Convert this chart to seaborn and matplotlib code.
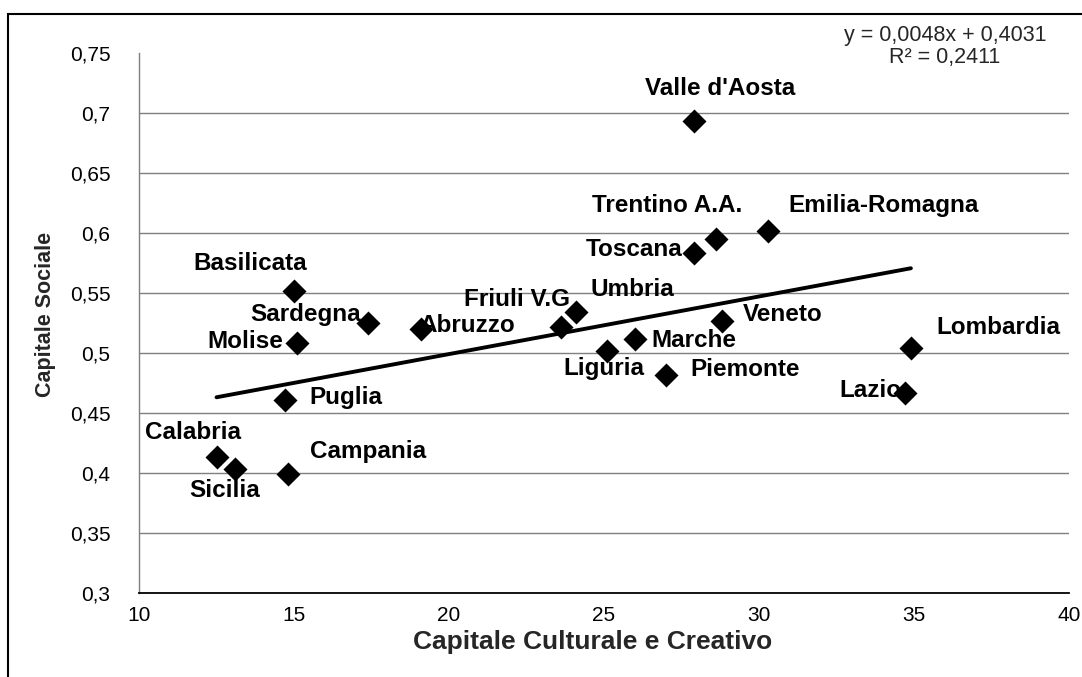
import numpy as np
import pandas as pd
import matplotlib
matplotlib.use("Agg")
import matplotlib.pyplot as plt
from matplotlib.ticker import FuncFormatter
from matplotlib.patches import Rectangle
import seaborn as sns

# Regional indicators
regioni = ["Valle d'Aosta", "Emilia-Romagna", "Trentino A.A.", "Toscana", "Basilicata",
           "Umbria", "Friuli V.G", "Sardegna", "Abruzzo", "Veneto", "Molise", "Marche",
           "Lombardia", "Liguria", "Piemonte", "Lazio", "Puglia", "Calabria",
           "Campania", "Sicilia"]
capitale_culturale = [27.9, 30.3, 28.6, 27.9, 15.0, 24.1, 23.6, 17.4, 19.1, 28.8, 15.1, 26.0,
                      34.9, 25.1, 27.0, 34.7, 14.7, 12.5, 14.8, 13.1]
capitale_sociale = [0.693, 0.602, 0.595, 0.583, 0.552, 0.534, 0.522, 0.525, 0.520, 0.527,
                    0.508, 0.512, 0.504, 0.502, 0.482, 0.467, 0.461, 0.413, 0.399, 0.403]

# Linear trend (as reported in the equation box)
pendenza = 0.0048
intercetta = 0.4031
r2 = 0.2411

x_ticks = [10, 15, 20, 25, 30, 35, 40]
y_ticks = [0.3, 0.35, 0.4, 0.45, 0.5, 0.55, 0.6, 0.65, 0.7, 0.75]

# label placement around each marker (pixels, x right / y up)
label_offsets = {
    "Valle d'Aosta": (26, 33), "Emilia-Romagna": (115, 25), "Trentino A.A.": (-48, 34),
    "Toscana": (-60, 4), "Basilicata": (-44, 27), "Umbria": (56, 23),
    "Friuli V.G": (-44, 27), "Sardegna": (-63, 8), "Abruzzo": (46, 3),
    "Veneto": (61, 6), "Molise": (-52, 2), "Marche": (59, -2), "Lombardia": (87, 21),
    "Liguria": (-3, -18), "Piemonte": (79, 5), "Lazio": (-34, 2), "Puglia": (61, 2),
    "Calabria": (-23, 25), "Campania": (80, 23), "Sicilia": (-10, -21),
}

df = pd.DataFrame({"regione": regioni, "cult": capitale_culturale, "soc": capitale_sociale})

sns.set_style("white")
plt.rcParams["font.family"] = ["Liberation Sans", "DejaVu Sans"]

fig = plt.figure(figsize=(10.82, 6.77), dpi=100)
ax = fig.add_axes([139 / 1082, 1 - 593 / 677, 930 / 1082, 540 / 677])

ax.set_xlim(10, 40)
ax.set_ylim(0.3, 0.75)

for yv in y_ticks[1:-1]:
    ax.axhline(yv, color="#7f7f7f", lw=1.0, zorder=0)

sns.scatterplot(data=df, x="cult", y="soc", marker="D", s=150, color="black",
                edgecolor="black", linewidth=0, ax=ax, zorder=3, legend=False)

xs = np.array([df["cult"].min(), df["cult"].max()])
ax.plot(xs, pendenza * xs + intercetta, color="black", lw=2.8, zorder=2,
        solid_capstyle="round")

for name, xv, yv in zip(regioni, capitale_culturale, capitale_sociale):
    dx, dy = label_offsets[name]
    ax.annotate(name, xy=(xv, yv), xytext=(dx, dy), textcoords="offset pixels",
                ha="center", va="center", fontsize=17.5, fontweight="bold",
                color="black", zorder=4)

fmt = FuncFormatter(lambda v, p: f"{v:g}".replace(".", ","))
ax.yaxis.set_major_formatter(fmt)
ax.set_xticks(x_ticks)
ax.set_yticks(y_ticks)
ax.tick_params(axis="both", labelsize=15, direction="inout", length=13, width=1,
               color="#7f7f7f", colors="black")
ax.tick_params(axis="y", pad=14)
ax.tick_params(axis="x", pad=3, color="black")
for t in ax.get_xticklabels() + ax.get_yticklabels():
    t.set_color("black")

for side in ["top", "right"]:
    ax.spines[side].set_visible(False)
ax.spines["left"].set_color("#7f7f7f")
ax.spines["left"].set_linewidth(1.0)
ax.spines["bottom"].set_color("black")
ax.spines["bottom"].set_linewidth(1.3)

ax.set_xlabel("Capitale Culturale e Creativo", fontsize=19, fontweight="bold")
ax.set_ylabel("Capitale Sociale", fontsize=15.5, fontweight="bold")
ax.xaxis.set_label_coords(0.488, -0.068)
ax.yaxis.set_label_coords(-0.089, 0.515)

fig.text(945 / 1082, 1 - 35 / 677, f"y = {pendenza:.4f}x + {intercetta:.4f}".replace(".", ","),
         ha="center", va="center", fontsize=15.5)
fig.text(945 / 1082, 1 - 58 / 677, f"R² = {r2:.4f}".replace(".", ","),
         ha="center", va="center", fontsize=15.5)

# outer chart border
fig.patches.append(Rectangle((8 / 1082, -0.2), 1.2, 1.2 - 14 / 677, transform=fig.transFigure,
                             fill=False, edgecolor="black", lw=1.5, zorder=10))

fig.savefig("out.png", dpi=100, facecolor="white")
